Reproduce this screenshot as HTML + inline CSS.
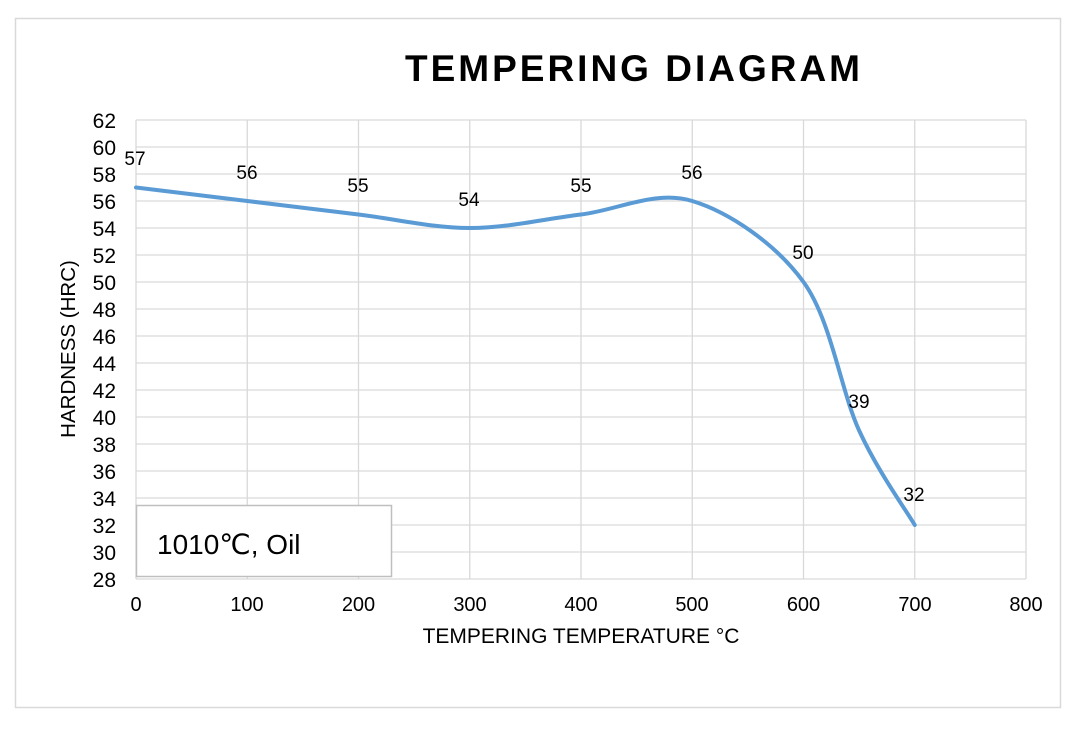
<!DOCTYPE html>
<html><head><meta charset="utf-8"><style>
html,body{margin:0;padding:0;background:#fff;}
svg{display:block;font-family:"Liberation Sans",Arial,sans-serif;}
</style></head><body>
<svg width="1080" height="735" viewBox="0 0 1080 735">
<rect x="15.5" y="18.5" width="1045" height="689" fill="#fff" stroke="#d9d9d9" stroke-width="1.5"/>
<text x="634" y="81" font-size="37" font-weight="bold" text-anchor="middle" letter-spacing="3" fill="#000">TEMPERING DIAGRAM</text>
<g stroke="#d9d9d9" stroke-width="1.3">
<line x1="136" y1="120" x2="1026" y2="120"/><line x1="136" y1="147" x2="1026" y2="147"/>
<line x1="136" y1="174" x2="1026" y2="174"/><line x1="136" y1="201" x2="1026" y2="201"/>
<line x1="136" y1="228" x2="1026" y2="228"/><line x1="136" y1="255" x2="1026" y2="255"/>
<line x1="136" y1="282" x2="1026" y2="282"/><line x1="136" y1="309" x2="1026" y2="309"/>
<line x1="136" y1="336" x2="1026" y2="336"/><line x1="136" y1="363" x2="1026" y2="363"/>
<line x1="136" y1="390" x2="1026" y2="390"/><line x1="136" y1="417" x2="1026" y2="417"/>
<line x1="136" y1="444" x2="1026" y2="444"/><line x1="136" y1="471" x2="1026" y2="471"/>
<line x1="136" y1="498" x2="1026" y2="498"/><line x1="136" y1="525" x2="1026" y2="525"/>
<line x1="136" y1="552" x2="1026" y2="552"/><line x1="136" y1="579" x2="1026" y2="579"/>
<line x1="136" y1="120" x2="136" y2="579"/><line x1="247.25" y1="120" x2="247.25" y2="579"/>
<line x1="358.5" y1="120" x2="358.5" y2="579"/><line x1="469.75" y1="120" x2="469.75" y2="579"/>
<line x1="581" y1="120" x2="581" y2="579"/><line x1="692.25" y1="120" x2="692.25" y2="579"/>
<line x1="803.5" y1="120" x2="803.5" y2="579"/><line x1="914.75" y1="120" x2="914.75" y2="579"/>
<line x1="1026" y1="120" x2="1026" y2="579"/>
</g>
<g font-size="21" text-anchor="end" fill="#000">
<text x="116" y="128">62</text><text x="116" y="155">60</text><text x="116" y="182">58</text>
<text x="116" y="209">56</text><text x="116" y="236">54</text><text x="116" y="263">52</text>
<text x="116" y="290">50</text><text x="116" y="317">48</text><text x="116" y="344">46</text>
<text x="116" y="371">44</text><text x="116" y="398">42</text><text x="116" y="425">40</text>
<text x="116" y="452">38</text><text x="116" y="479">36</text><text x="116" y="506">34</text>
<text x="116" y="533">32</text><text x="116" y="560">30</text><text x="116" y="587">28</text>
</g>
<g font-size="20" text-anchor="middle" fill="#000">
<text x="136" y="611">0</text><text x="247" y="611">100</text><text x="358.5" y="611">200</text>
<text x="470" y="611">300</text><text x="581" y="611">400</text><text x="692" y="611">500</text>
<text x="803.5" y="611">600</text><text x="915" y="611">700</text><text x="1026" y="611">800</text>
</g>
<text x="581" y="643" font-size="21" text-anchor="middle">TEMPERING TEMPERATURE °C</text>
<text transform="translate(75,349) rotate(-90)" font-size="20.5" text-anchor="middle">HARDNESS (HRC)</text>
<path d="M136,187.5 C154.5,189.75 210.17,196.5 247.25,201 C284.33,205.5 321.42,210 358.5,214.5 C395.58,219 432.67,228 469.75,228 C506.83,228 543.92,219 581,214.5 C618.08,210 655.17,189.75 692.25,201 C729.33,212.25 775.7,243.75 803.5,282 C831.3,320.25 840.56,390 859.1,430.5 C877.64,471 905.5,509.25 914.75,525" fill="none" stroke="#5b9bd5" stroke-width="4" stroke-linecap="round"/>
<g font-size="19" text-anchor="middle" fill="#000">
<text x="135" y="165">57</text><text x="247" y="179">56</text><text x="358" y="192">55</text>
<text x="469" y="206">54</text><text x="581" y="192">55</text><text x="692" y="179">56</text>
<text x="803" y="259">50</text><text x="859" y="408">39</text><text x="914" y="501">32</text>
</g>
<rect x="136.5" y="505.5" width="255" height="71" fill="#fff" stroke="#bfbfbf" stroke-width="1.5"/>
<text x="157" y="554" font-size="28" fill="#000" font-family="'Liberation Sans','DejaVu Sans',sans-serif">1010℃, Oil</text>
</svg>
</body></html>
